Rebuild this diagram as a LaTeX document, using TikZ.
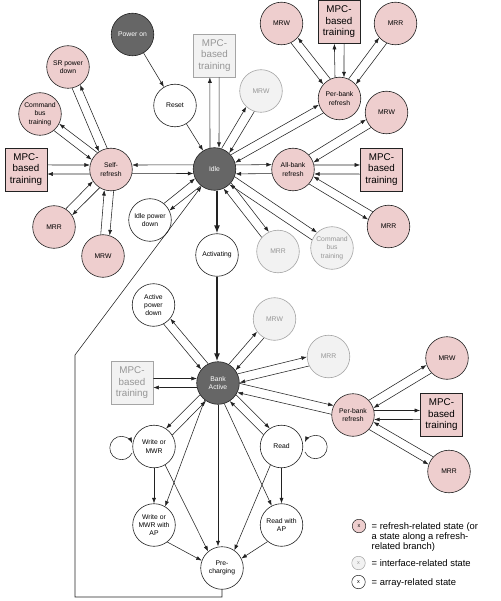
\documentclass[tikz,border=0pt]{standalone}
\usepackage{fontspec}
\setmainfont{Liberation Sans}
\usetikzlibrary{calc,arrows.meta}
\definecolor{pinkf}{RGB}{238,206,206}
\definecolor{grayf}{RGB}{242,242,242}
\definecolor{grayd}{RGB}{165,165,165}
\definecolor{grayt}{RGB}{150,150,150}
\definecolor{darkf}{RGB}{102,102,102}
\definecolor{edgec}{RGB}{34,34,34}
\newcommand\oneway[3]{\draw[ar] let \p1=($(#2)-(#1)$), \n1={atan2(\y1,\x1)+(#3)}, \n2={atan2(\y1,\x1)+180-(#3)} in (#1.\n1) -- (#2.\n2);}
\newcommand\pairL[2]{\oneway{#1}{#2}{12}\oneway{#2}{#1}{12}}
\newcommand\pairR[2]{\oneway{#1}{#2}{-12}\oneway{#2}{#1}{-12}}
\begin{document}
\begin{tikzpicture}[x=1pt,y=-1pt,
 st/.style={circle,draw=edgec,line width=0.6pt,minimum size=42.6pt,inner sep=0pt,align=center,font=\fontsize{6.8}{8.3}\selectfont},
 pinkst/.style={st,fill=pinkf},
 grayst/.style={st,fill=grayf,draw=grayd,text=grayt},
 darkst/.style={st,fill=darkf,text=white},
 whitest/.style={st,fill=white},
 mpc/.style={rectangle,draw=edgec,line width=0.6pt,minimum width=42pt,minimum height=43pt,inner sep=0pt,align=center,font=\fontsize{9.8}{11.5}\selectfont},
 mpcp/.style={mpc,fill=pinkf},
 mpcg/.style={mpc,fill=grayf,draw=grayd,text=grayt},
 ar/.style={-{Latex[length=5.5pt,width=4pt]},draw=edgec,line width=0.55pt},
 tarr/.style={-{Latex[length=8pt,width=6pt]},draw=edgec,line width=1.5pt},
 lgc/.style={circle,draw=edgec,line width=0.5pt,minimum size=13.5pt,inner sep=0pt,font=\fontsize{5.5}{6}\selectfont},
 lgt/.style={anchor=base west,inner sep=0pt,font=\fontsize{9.4}{10}\selectfont}
]
\fill[white] (0,0) rectangle (500,601);
\useasboundingbox (0,0) rectangle (500,601);
% nodes
\node[darkst] (PO) at (132.5,34.5) {Power on};
\node[whitest] (RS) at (175,105.5) {Reset};
\node[mpcg] (MPCT) at (214.5,55.5) {MPC-\\based\\training};
\node[darkst] (ID) at (214.5,169) {Idle};
\node[pinkst] (SR) at (111,169.5) {Self-\\refresh};
\node[pinkst] (SRPD) at (68,67) {SR power\\down};
\node[pinkst] (CBTL) at (40,114) {Command\\bus\\training};
\node[mpcp] (MPCL) at (26,169.5) {MPC-\\based\\training};
\node[pinkst] (MRRL) at (54,227) {MRR};
\node[pinkst] (MRWL) at (103,256) {MRW};
\node[whitest] (IPD) at (150,220) {Idle power\\down};
\node[whitest] (ACT) at (217,255) {Activating};
\node[grayst] (MRWG) at (261,91) {MRW};
\node[pinkst] (PBT) at (339.5,98.5) {Per-bank\\refresh};
\node[pinkst] (MRWT) at (281.5,23.5) {MRW};
\node[mpcp] (MPCT2) at (339,22) {MPC-\\based\\training};
\node[pinkst] (MRRT) at (395.5,23.5) {MRR};
\node[pinkst] (MRWR) at (386.5,112.5) {MRW};
\node[pinkst] (AB) at (293,169.5) {All-bank\\refresh};
\node[mpcp] (MPCR) at (381.5,169.5) {MPC-\\based\\training};
\node[pinkst] (MRRR) at (388.5,226.5) {MRR};
\node[grayst] (MRRG) at (278,251.5) {MRR};
\node[grayst] (CBTG) at (332,248) {Command\\bus\\training};
\node[whitest] (APD) at (153.5,305) {Active\\power\\down};
\node[grayst] (MRWG2) at (274.5,319) {MRW};
\node[darkst] (BA) at (218,383) {Bank\\Active};
\node[mpcg] (MPCG) at (132,383) {MPC-\\based\\training};
\node[grayst] (MRRG2) at (328.5,356.5) {MRR};
\node[pinkst] (PBM) at (353,415) {Per-bank\\refresh};
\node[pinkst] (MRWM) at (447,358) {MRW};
\node[mpcp] (MPCM) at (441.5,415) {MPC-\\based\\training};
\node[pinkst] (MRRM) at (449,471.5) {MRR};
\node[whitest] (WR) at (154,446.5) {Write or\\MWR};
\node[whitest] (RD) at (281.5,446.5) {Read};
\node[whitest] (WAP) at (154,525) {Write or\\MWR with\\AP};
\node[whitest] (RAP) at (281.5,525) {Read with\\AP};
\node[whitest] (PC) at (222,568) {Pre-\\charging};
% single arrows
\draw[ar] (PO) -- (RS);
\draw[ar] (RS) -- (ID);
\draw[tarr] (ACT |- ID.south) -- (ACT.north);
\draw[tarr] (ACT.south) -- (ACT.south |- BA.north);
\draw[ar] (BA.232) -- (WAP.59);
\draw[ar] (BA.-73) -- (RAP.117);
\draw[ar] (BA.south) -- (BA.south |- PC.north);
\draw[ar] (WR.south) -- (WAP.north);
\draw[ar] (RD.south) -- (RAP.north);
\draw[ar] (WR.-59) -- (PC.130);
\draw[ar] (RD.239) -- (PC.55);
\draw[ar] (WAP.-52) -- (PC.160);
\draw[ar] (RAP.230) -- (PC.26.6);
% loops
\coordinate (WLc) at (121.5,448);
\coordinate (RLc) at (315.5,447);
\draw[ar] (WLc) ++(25:11.7) arc[start angle=25,end angle=335,radius=11.7];
\draw[ar] (RLc) ++(155:11.7) arc[start angle=155,end angle=-155,radius=11.7];
% return path
\coordinate (r2) at (75,597);
\coordinate (r3) at (75,355);
\draw[ar] (PC.south) |- (r2) -- (r3) -- (ID);
% pairs around self-refresh
\pairR{ID}{SR}
\pairR{SRPD}{SR}
\pairR{CBTL}{SR}
\pairL{MPCL}{SR}
\pairL{MRRL}{SR}
\pairL{MRWL}{SR}
% pairs around idle
\pairL{ID}{MPCT}
\pairL{ID}{MRWG}
\pairL{ID}{PBT}
\pairL{ID}{AB}
\pairL{ID}{MRRG}
\pairL{ID}{CBTG}
\pairL{IPD}{ID}
% per-bank top
\pairR{MRWT}{PBT}
\pairL{PBT}{MPCT2}
\pairL{PBT}{MRRT}
% all-bank
\pairL{AB}{MRWR}
\pairL{AB}{MPCR}
\pairR{AB}{MRRR}
% bank active
\pairR{APD}{BA}
\pairL{BA}{MRWG2}
\pairL{BA}{MRRG2}
\pairL{MPCG}{BA}
\pairL{BA}{PBM}
\pairR{BA}{WR}
\pairL{BA}{RD}
% per-bank mid
\pairL{PBM}{MRWM}
\pairL{PBM}{MPCM}
\pairR{PBM}{MRRM}
% legend
\node[lgc,fill=pinkf] (L1) at (359,526) {x};
\node[lgc,fill=grayf,draw=grayd,text=grayt] (L2) at (358.5,563) {x};
\node[lgc,fill=white] (L3) at (358.5,582) {x};
\node[lgt] (T1) at (371.5,529.3) {= refresh-related state (or};
\node[lgt] (T2) at (371.5,539.3) {a state along a refresh-};
\node[lgt] (T3) at (371.5,549.3) {related branch)};
\node[lgt] (T4) at (371.5,566.3) {= interface-related state};
\node[lgt] (T5) at (371.5,585.3) {= array-related state};
\end{tikzpicture}
\end{document}
